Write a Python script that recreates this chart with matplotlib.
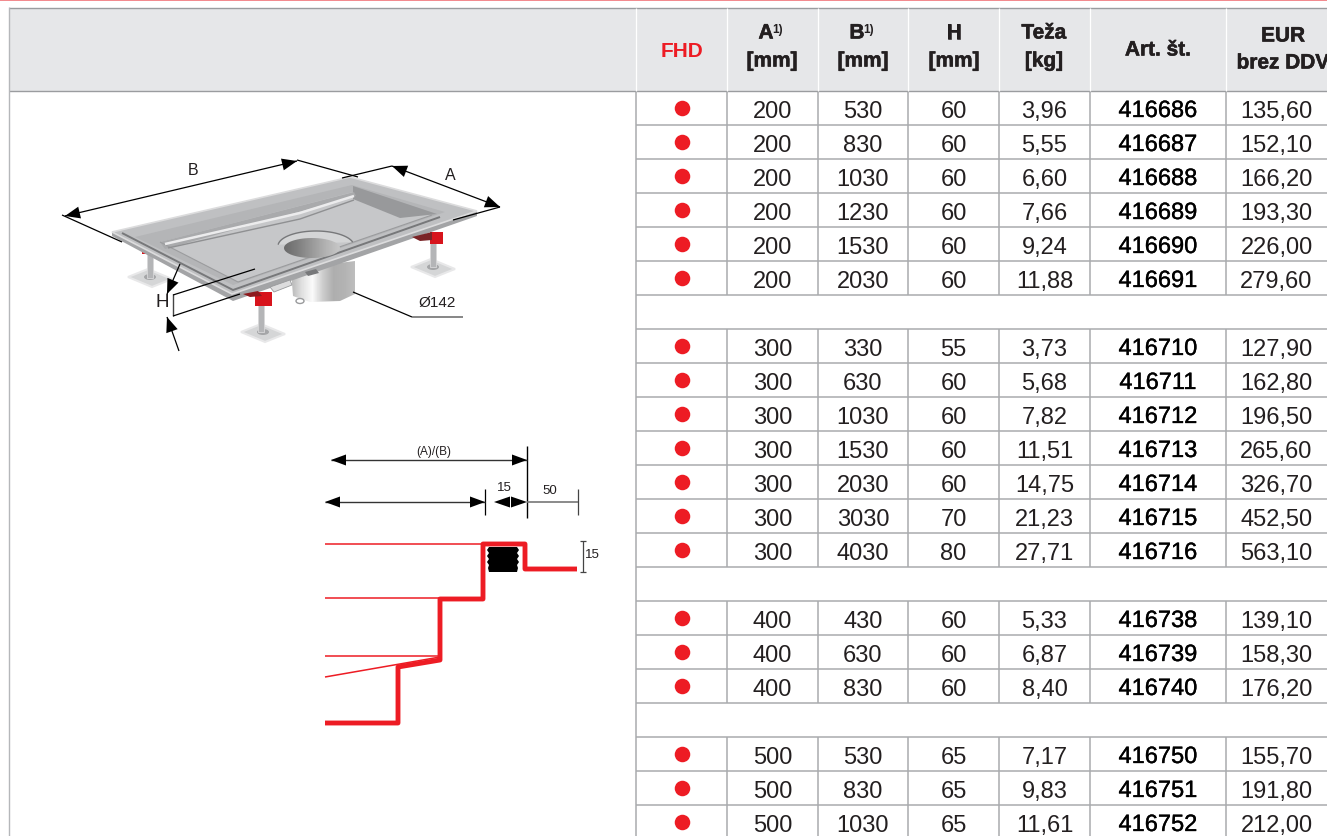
import matplotlib
matplotlib.use("Agg")
import numpy as np
import matplotlib.pyplot as plt
import matplotlib.patheffects as pe
from matplotlib.patches import Polygon, Rectangle, Ellipse

# table data, "" = empty row between the groups
col_a = ["200","200","200","200","200","200","",
         "300","300","300","300","300","300","300","",
         "400","400","400","",
         "500","500","500"]
col_b = ["530","830","1030","1230","1530","2030","",
         "330","630","1030","1530","2030","3030","4030","",
         "430","630","830","",
         "530","830","1030"]
col_h = ["60","60","60","60","60","60","",
         "55","60","60","60","60","70","80","",
         "60","60","60","",
         "65","65","65"]
col_kg = ["3,96","5,55","6,60","7,66","9,24","11,88","",
          "3,73","5,68","7,82","11,51","14,75","21,23","27,71","",
          "5,33","6,87","8,40","",
          "7,17","9,83","11,61"]
col_art = ["416686","416687","416688","416689","416690","416691","",
           "416710","416711","416712","416713","416714","416715","416716","",
           "416738","416739","416740","",
           "416750","416751","416752"]
col_eur = ["135,60","152,10","166,20","193,30","226,00","279,60","",
           "127,90","162,80","196,50","265,60","326,70","452,50","563,10","",
           "139,10","158,30","176,20","",
           "155,70","191,80","212,00"]

col_x = [636, 727, 818, 908, 999, 1090, 1226, 1327]
row_h = 34
top = 92

RED = "#ed1c24"
LINE = "#a9abae"
NARROW = ["Liberation Sans Narrow", "Liberation Sans", "DejaVu Sans"]

fig = plt.figure(figsize=(13.27, 8.37), dpi=100)
ax = fig.add_axes([0, 0, 1, 1])
ax.set_xlim(0, 1327)
ax.set_ylim(837, 0)
ax.axis("off")


def arrow(x0, y0, x1, y1, lng=15, wid=6):
    # filled head with tip on x1,y1
    d = np.array([x1 - x0, y1 - y0], float)
    d = d / np.hypot(*d)
    n = np.array([-d[1], d[0]])
    tip = np.array([x1, y1])
    ax.add_patch(Polygon([tip, tip - d*lng + n*wid, tip - d*lng - n*wid], fc="k", ec="none", zorder=8))


def ln(xs, ys, c="k", lw=0.9, z=7):
    ax.plot(xs, ys, color=c, lw=lw, zorder=z, solid_capstyle="butt", solid_joinstyle="round")


def gradient(verts, stops, z):
    # horizontal grey gradient clipped to a polygon
    verts = np.array(verts, float)
    p = Polygon(verts, fc="none", ec="none", zorder=z)
    ax.add_patch(p)
    g = np.interp(np.linspace(0, 1, 64), np.linspace(0, 1, len(stops)), stops).reshape(1, -1)
    im = ax.imshow(g, cmap="gray", vmin=0, vmax=1, aspect="auto", zorder=z,
                   extent=[verts[:, 0].min(), verts[:, 0].max(), verts[:, 1].max(), verts[:, 1].min()])
    im.set_clip_path(p)


# page furniture
ax.add_patch(Rectangle((0, 0), 1327, 1.5, fc="#f28b8f", ec="none"))
ax.add_patch(Rectangle((9, 9), 1318, 83, fc="#e6e7e9", ec="none"))
ln([9, 1327], [8.5, 8.5], "#9a9c9f", 1.0)
ln([9, 1327], [92, 92], "#9a9c9f", 1.0)
ln([9, 9], [8, 837], "#b5b7ba", 1.0)
for x in col_x[:-1]:
    ln([x, x], [9, 92], "#ffffff", 0.9)

# grid, the empty rows have no inner verticals
n_rows = len(col_a)
for i in range(n_rows):
    y0 = top + i*row_h
    ln([636, 1327], [y0 + row_h, y0 + row_h], LINE, 1.1, 3)
    ln([636, 636], [y0, y0 + row_h], LINE, 1.1, 3)
    if col_a[i]:
        for x in col_x[1:-1]:
            ln([x, x], [y0, y0 + row_h], LINE, 1.1, 3)

# header
hdr = dict(family=NARROW, fontsize=15, fontweight="bold", color="#231f20", ha="center", va="center")
hdr_fx = [pe.withStroke(linewidth=0.4, foreground="#231f20")]
for x, y, s in [(766, 34, "A"), (857, 34, "B"), (772, 62, "[mm]"), (863, 62, "[mm]"),
                (954, 34, "H"), (954, 62, "[mm]"), (1044, 34, "Teža"), (1044, 62, "[kg]"),
                (1158, 51, "Art. št."), (1283, 37, "EUR"), (1283, 64, "brez DDV")]:
    ax.text(x, y, s, path_effects=hdr_fx, **hdr)
ax.text(682, 51, "FHD", **{**hdr, "color": RED})
for cx in [766, 857]:
    ax.text(cx + 12, 30, "1)", family=NARROW, fontsize=8.5, fontweight="bold", color="#231f20", ha="center", va="center")

# body
body = dict(family=NARROW, fontsize=17, color="#231f20", ha="center", va="baseline")
centers = [(col_x[j] + col_x[j+1])/2 for j in range(7)]
dots = [i for i in range(n_rows) if col_a[i]]
ax.scatter([682]*len(dots), [top + (i + .5)*row_h for i in dots], s=125, color=RED, lw=0, zorder=5)
for i in dots:
    y = top + i*row_h + 26
    ax.text(centers[1], y, col_a[i], **body)
    ax.text(centers[2], y, col_b[i], **body)
    ax.text(centers[3], y, col_h[i], **body)
    ax.text(centers[4], y, col_kg[i], **body)
    t = ax.text(centers[5], y, col_art[i], **{**body, "color": "k"})
    t.set_path_effects([pe.withStroke(linewidth=0.25, foreground="k")])
    ax.text(centers[6], y, col_eur[i], **body)

# --- product sketch ---
def plate(cx, cy):
    ax.add_patch(Polygon([(cx-22, cy), (cx-2, cy-8), (cx+22, cy+2), (cx+2, cy+10)], fc="#d5d6d7", ec="#e8e8e9", lw=1.5, zorder=4))
    ax.add_patch(Ellipse((cx, cy), 12, 6, fc="#a5a6a8", ec="none", zorder=4))

plate(150, 278)
plate(263, 333)
plate(433, 268)
for xs, y0, y1 in [(150, 255, 279), (261, 305, 333), (433, 243, 268)]:
    ax.add_patch(Rectangle((xs-3, y0), 6, y1-y0, fc="#b4b5b7", ec="#d8d8d9", lw=0.6, zorder=4))
# drain body under the tray
gradient([(291, 270), (355, 262), (355, 295), (340, 302), (310, 303), (293, 297)],
         [.72, .88, .98, .8, .68, .7, .74], 4)
ax.add_patch(Ellipse((300, 302), 8, 5, fc="white", ec="#9a9b9d", lw=1, zorder=4))
# tray: lower band, rim, frame, basin
ax.add_patch(Polygon([(232, 295), (477, 212), (477, 217), (233, 302), (112, 237), (112, 233)], fc="#a3a4a6", ec="none", zorder=5))
ax.add_patch(Polygon([(112, 233), (350, 178), (477, 212), (232, 295)], fc="#bfc0c2", ec="#dcdcdd", lw=1.2, zorder=5))
ax.add_patch(Polygon([(135, 238), (352, 186), (445, 213), (233, 286)], fc="#b4b5b7", ec="none", zorder=5))
ln([122, 233, 440], [234, 291, 218], "#77787a", 1.4, 6)
ax.add_patch(Polygon([(160, 243), (353, 193), (432, 216), (238, 283)], fc="#c6c7c9", ec="none", zorder=5))
ln([160, 238, 432], [243, 283, 216], "#9b9c9e", 0.8, 6)
ax.add_patch(Polygon([(353, 187), (437, 215), (400, 219), (353, 200)], fc="#98999b", ec="none", zorder=5))
ax.add_patch(Polygon([(160, 243), (354, 193), (356, 197), (165, 250)], fc="#a9aaac", ec="none", zorder=5))
ln([165, 300, 354], [245, 214, 197], "#ececed", 1.8, 6)
ln([168, 300, 354], [249, 220, 201], "#8f9092", 1.0, 6)
# drain opening: rim arc on the upper side, bowl below it
ang = np.linspace(np.radians(185), np.radians(345), 40)
rim = np.column_stack([316 + 38*np.cos(ang), 247 + 15*np.sin(ang)])
ax.add_patch(Polygon(rim, fc="#d4d5d6", ec="none", zorder=6))
ln(rim[:, 0], rim[:, 1], "#77787a", 1.0, 6)
ang = np.linspace(0, 2*np.pi, 60)
bowl = np.column_stack([312 + 28*np.cos(ang), 249 + 10*np.sin(ang)])
gradient(bowl, [.42, .5, .6, .7, .78], 6)
# small fittings along the front
ax.add_patch(Polygon([(305, 273), (316, 270), (319, 274), (308, 277)], fc="#77787a", ec="none", zorder=6))
ax.add_patch(Polygon([(270, 288), (290, 281), (292, 286), (274, 293)], fc="#dcdcdd", ec="#98999b", lw=0.6, zorder=6))
# red adjusters
for x0, y0, w, h in [(255, 293, 17, 14), (430, 233, 13, 12)]:
    ax.add_patch(Rectangle((x0, y0), w, h, fc="#d7141c", ec="none", zorder=6))
ax.add_patch(Polygon([(243, 295), (258, 292), (262, 297), (250, 298)], fc="#8e1a1e", ec="none", zorder=6))
ax.add_patch(Polygon([(412, 238), (432, 233), (432, 241), (420, 242)], fc="#7a2326", ec="none", zorder=6))
ax.add_patch(Rectangle((142, 251), 4, 4, fc="#d7141c", ec="none", zorder=4))

# dimension lines of the sketch
ln([65, 297], [217, 162])
arrow(297, 162, 65, 217)
arrow(65, 217, 297, 162)
ln([62, 122], [216, 243])
ln([297, 358], [161, 178])
ln([392, 500], [167, 208])
arrow(500, 208, 392, 167)
arrow(392, 167, 500, 208)
ln([342, 392], [179, 167])
ln([453, 500], [221, 208])
ln([180, 167], [265, 295])
arrow(180, 265, 167, 295)
ln([179, 167], [352, 318])
arrow(179, 352, 167, 318)
ln([173, 173], [295, 317], "#444444", 1.0)
ln([173, 255], [296, 270])
ln([173, 240], [317, 295])
ln([353, 412], [293, 318])
ln([412, 463], [318, 318], "#666666", 1.1)
lab = dict(family=["Liberation Sans", "DejaVu Sans"], color="#231f20", ha="center", va="center")
ax.text(193, 170, "B", fontsize=11.5, **lab)
ax.text(450, 175, "A", fontsize=11.5, **lab)
ax.text(162, 302, "H", fontsize=13.5, **lab)
ax.text(437, 303, "Ø142", fontsize=11, **lab)

# --- edge profile ---
ln([527, 527], [447, 519], "k", 1.0)
ln([485, 485], [490, 516], "k", 0.9)
ln([578, 578], [490, 516], "#444444", 0.9)
ln([331, 527], [461, 461], "#333333", 1.0)
arrow(527, 461, 331, 461, 15, 5.5)
arrow(331, 461, 527, 461, 15, 5.5)
ln([325, 485], [503, 503], "#333333", 1.0)
arrow(485, 503, 325, 503, 15, 5.5)
arrow(325, 503, 485, 503, 15, 5.5)
arrow(527, 503, 494, 503, 16, 5.5)
arrow(494, 503, 527, 503, 16, 5.5)
ln([527, 578], [503, 503], "#777777", 1.2)
ln([583, 583], [542, 573], "#444444", 0.9)
ln([580, 586], [542, 542], "#444444", 0.9)
ln([580, 586], [573, 573], "#444444", 0.9)
ax.text(434, 452, "(A)/(B)", fontsize=8.5, **lab)
ax.text(504, 488, "15", fontsize=9.5, **lab)
ax.text(550, 491, "50", fontsize=9.5, **lab)
ax.text(592, 555, "15", fontsize=9.5, **lab)

ln([325, 483], [545, 545], RED, 1.1, 6)
ln([325, 440], [599, 599], RED, 1.1, 6)
ln([325, 440], [657, 657], RED, 1.1, 6)
ln([325, 440], [678, 658], RED, 1.1, 6)
ln([577, 525, 525, 483, 483, 440, 440, 398, 398, 325],
   [570, 570, 545, 545, 600, 600, 661, 668, 724, 724], RED, 3.5, 7)
# gasket with the ribbed sides
gx_l = [489, 487, 489, 487, 489, 487, 489, 488, 489]
gx_r = [517, 519, 517, 519, 517, 519, 517, 518, 517]
gy = [548, 551, 554, 557, 560, 563, 566, 569, 573]
ax.add_patch(Polygon(list(zip(gx_l, gy)) + list(zip(gx_r, gy))[::-1], fc="k", ec="none", zorder=8))

fig.savefig("out.png", dpi=100, facecolor="white")
